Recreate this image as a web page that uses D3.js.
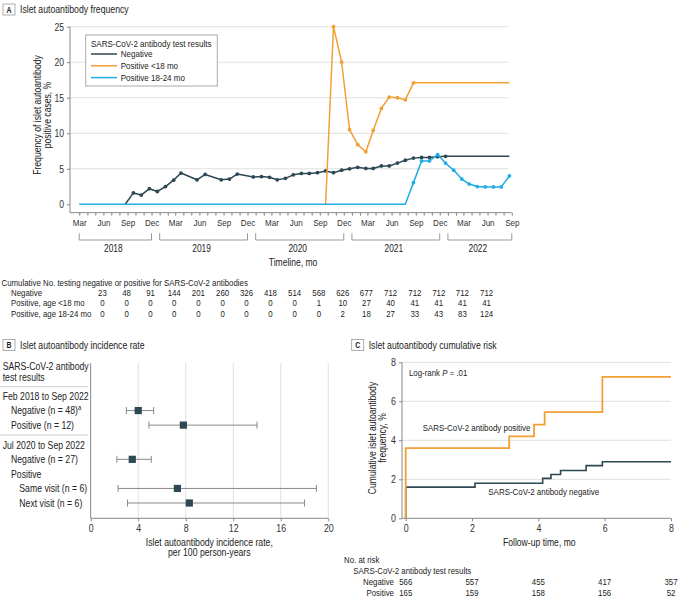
<!DOCTYPE html>
<html>
<head>
<meta charset="utf-8">
<script src="https://cdn.jsdelivr.net/npm/d3@7"></script>
<style>
  body { margin: 0; background: #fff; }
  svg { font-family: "Liberation Sans", Arial, sans-serif; }
  text { fill: #222; }
  .tick text { fill: #333; }
</style>
</head>
<body>
<svg id="chart" width="680" height="597"></svg>
<script>
// ---------- panel A data (monthly frequency, %) ----------
let negMonths = ["2018-08","2018-09","2018-10","2018-11","2018-12","2019-01","2019-02","2019-03","2019-05","2019-06",
                 "2019-08","2019-09","2019-10","2019-12","2020-01","2020-02","2020-03","2020-04","2020-05","2020-06",
                 "2020-07","2020-08","2020-09","2020-10","2020-11","2020-12","2021-01","2021-02","2021-03","2021-04",
                 "2021-05","2021-06","2021-07","2021-08","2021-09","2021-10","2021-11","2021-12","2022-08"];
let negValues = [0, 1.6, 1.3, 2.2, 1.8, 2.5, 3.4, 4.4, 3.45, 4.2,
                 3.45, 3.55, 4.25, 3.85, 3.9, 3.8, 3.45, 3.65, 4.15, 4.35,
                 4.35, 4.45, 4.7, 4.45, 4.8, 5.0, 5.2, 5.05, 5.05, 5.4,
                 5.4, 5.8, 6.2, 6.5, 6.6, 6.6, 6.7, 6.75, 6.75];

let posU18Months = ["2020-09","2020-10","2020-11","2020-12","2021-01","2021-02","2021-03","2021-04","2021-05","2021-06","2021-07","2021-08","2022-08"];
let posU18Values = [0, 25, 20, 10.5, 8.4, 7.4, 10.4, 13.5, 15.1, 15.0, 14.7, 17.1, 17.1];

let pos18Months = ["2018-02","2021-07","2021-08","2021-09","2021-10","2021-11","2021-12","2022-01","2022-02","2022-03","2022-04","2022-05","2022-06","2022-07","2022-08"];
let pos18Values = [0, 0, 3.05, 6.1, 6.1, 7.0, 5.8, 4.8, 3.55, 2.85, 2.5, 2.45, 2.45, 2.45, 4.0];

let seriesNames = ["Negative", "Positive <18 mo", "Positive 18-24 mo"];
let seriesColors = ["#2c4853", "#f2a033", "#1fade3"];

let years = [2018, 2019, 2020, 2021, 2022];

// cumulative numbers, one per quarter from Jun 2018 to Jun 2022
let tableRowNames = ["Negative", "Positive, age <18 mo", "Positive, age 18-24 mo"];
let tableNeg = [23, 48, 91, 144, 201, 260, 326, 418, 514, 568, 626, 677, 712, 712, 712, 712, 712];
let tablePosU18 = [0, 0, 0, 0, 0, 0, 0, 0, 0, 1, 10, 27, 40, 41, 41, 41, 41];
let tablePos18 = [0, 0, 0, 0, 0, 0, 0, 0, 0, 0, 2, 18, 27, 33, 43, 83, 124];

// ---------- panel B data (incidence per 100 person-years) ----------
let bRows = ["Feb 2018 to Sep 2022", "Negative (n = 48)", "Positive (n = 12)", "Jul 2020 to Sep 2022",
             "Negative (n = 27)", "Positive", "Same visit (n = 6)", "Next visit (n = 6)"];
let bLevels = [0, 1, 1, 0, 1, 1, 2, 2];
let bRates = [null, 4.0, 7.8, null, 3.5, null, 7.3, 8.3];
let bLower = [null, 3.0, 4.9, null, 2.2, null, 2.3, 3.1];
let bUpper = [null, 5.3, 14.0, null, 5.1, null, 19.0, 18.0];

// ---------- panel C data (cumulative risk, %) ----------
let cPosTimes = [0, 0, 3.12, 3.87, 4.19, 5.93, 8];
let cPosRisk = [0, 3.6, 4.2, 4.8, 5.45, 7.25, 7.25];
let cNegTimes = [0, 0, 2.09, 4.13, 4.38, 4.67, 5.44, 5.93, 8];
let cNegRisk = [0, 1.6, 1.8, 2.05, 2.25, 2.45, 2.7, 2.9, 2.9];
let riskTimes = [0, 2, 4, 6, 8];
let riskNeg = [566, 557, 455, 417, 357];
let riskPos = [165, 159, 158, 156, 52];

const svg = d3.select("#chart");
const GRID = "#e0e0e0";
const AXIS = "#888";
const SX = 0.82;   // narrow the face, like a condensed font

function txt(parent, x, y, str, size, anchor, rot) {
    return parent.append("text")
        .attr("transform", `translate(${x},${y})${rot ? ` rotate(${rot})` : ""} scale(${SX},1)`)
        .attr("text-anchor", anchor || "start")
        .attr("dominant-baseline", "central")
        .style("font-size", size + "px")
        .text(str);
}

function panelLabel(x, y, letter, title) {
    svg.append("rect").attr("x", x).attr("y", y).attr("width", 12).attr("height", 11)
        .attr("fill", "#fff").attr("stroke", "#999").attr("stroke-width", 0.8);
    txt(svg, x + 6, y + 5.8, letter, 8.5, "middle").style("font-weight", "bold");
    txt(svg, x + 17, y + 5.5, title, 10.6);
}

function styleAxis(g, size) {
    g.select(".domain").remove();
    g.selectAll(".tick line").attr("stroke", AXIS);
    g.selectAll(".tick text")
        .style("font-size", (size || 10) + "px")
        .attr("x", function() { return (+d3.select(this).attr("x") || 0) / SX; })
        .attr("transform", `scale(${SX},1)`);
}

// ================= Panel A =================
panelLabel(3, 4, "A", "Islet autoantibody frequency");

let parseMonth = d3.timeParse("%Y-%m");
// monthly points sit in the later part of each month
let pointDate = m => d3.timeDay.offset(parseMonth(m), 22);

let xA = d3.scaleTime()
    .domain([new Date(2018, 2, 1), new Date(2022, 8, 1)])
    .range([79.2, 511.8])
    .clamp(true);
let yA = d3.scaleLinear().domain([0, 25]).range([204.3, 26.7]);

// gridlines
svg.append("g").selectAll("line").data([5, 10, 15, 20, 25]).enter().append("line")
    .attr("x1", 70).attr("x2", 508)
    .attr("y1", d => yA(d)).attr("y2", d => yA(d))
    .attr("stroke", GRID);

// axes
svg.append("line").attr("x1", 70).attr("x2", 70).attr("y1", yA(25)).attr("y2", 212.7).attr("stroke", AXIS);
svg.append("line").attr("x1", 70).attr("x2", 511.8).attr("y1", 212.7).attr("y2", 212.7).attr("stroke", AXIS);

svg.append("g").attr("transform", "translate(70,0)")
    .call(d3.axisLeft(yA).tickValues([0, 5, 10, 15, 20, 25]).tickSize(3).tickPadding(3))
    .call(styleAxis, 10.5);

let quarterMonths = [2, 5, 8, 11];
svg.append("g").attr("transform", "translate(0,212.7)")
    .call(d3.axisBottom(xA).ticks(d3.timeMonth.every(1)).tickSize(3).tickPadding(3)
        .tickFormat(d => quarterMonths.includes(d.getMonth()) ? d3.timeFormat("%b")(d) : ""))
    .call(styleAxis, 9.8);

// year brackets
let domA = xA.domain();
years.forEach(yr => {
    let x0 = xA(d3.max([new Date(yr, 0, 1), domA[0]]));
    let x1 = xA(d3.min([new Date(yr, 11, 1), domA[1]]));
    svg.append("path")
        .attr("d", `M${x0},233.3V240H${x1}V233.3`)
        .attr("fill", "none").attr("stroke", "#999");
    txt(svg, (x0 + x1) / 2 - 2, 248.3, yr, 10.2, "middle");
});

txt(svg, 293, 262.3, "Timeline, mo", 10.4, "middle");

txt(svg, 37, 115, "Frequency of islet autoantibody", 10.5, "middle", -90);
txt(svg, 47.5, 115, "positive cases, %", 10.5, "middle", -90);

// lines
let seriesA = [
    negMonths.map((m, i) => ({ date: pointDate(m), v: negValues[i] })),
    posU18Months.map((m, i) => ({ date: pointDate(m), v: posU18Values[i] })),
    pos18Months.map((m, i) => ({ date: pointDate(m), v: pos18Values[i] }))
];
let lineA = d3.line().x(d => xA(d.date)).y(d => yA(d.v));

seriesA.forEach((s, k) => {
    svg.append("path").datum(s).attr("d", lineA)
        .attr("fill", "none").attr("stroke", seriesColors[k]).attr("stroke-width", 1.5)
        .attr("stroke-linejoin", "round");
    // markers on the measured points (not on zero runs or flat carry-forward ends)
    let marked = s.filter((d, i) => d.v > 0 && !(k < 2 && i === s.length - 1));
    svg.append("g").selectAll("circle").data(marked).enter().append("circle")
        .attr("cx", d => xA(d.date)).attr("cy", d => yA(d.v))
        .attr("r", 1.9).attr("fill", seriesColors[k]);
});

// legend
let legA = svg.append("g");
legA.append("rect").attr("x", 85.7).attr("y", 35).attr("width", 131.6).attr("height", 51)
    .attr("fill", "#fff").attr("stroke", "#aaa");
txt(legA, 91, 43.7, "SARS-CoV-2 antibody test results", 9.8);
seriesNames.forEach((n, k) => {
    let yy = 54 + k * 11.8;
    legA.append("line").attr("x1", 91).attr("x2", 117).attr("y1", yy).attr("y2", yy)
        .attr("stroke", seriesColors[k]).attr("stroke-width", 1.5);
    txt(legA, 120.7, yy, n, 9.8);
});

// cumulative numbers table
txt(svg, 1.5, 282.3, "Cumulative No. testing negative or positive for SARS-CoV-2 antibodies", 9.6);
let firstCol = new Date(2018, 5, 1);
[tableNeg, tablePosU18, tablePos18].forEach((row, r) => {
    let yy = 292.7 + r * 10.5;
    txt(svg, 11, yy, tableRowNames[r], 9.6);
    let g = svg.append("g");
    row.forEach((v, i) => {
        txt(g, xA(d3.timeMonth.offset(firstCol, 3 * i)) - 1, yy, v, 9.6, "middle");
    });
});

// ================= Panel B =================
panelLabel(3, 339.5, "B", "Islet autoantibody incidence rate");

let xB = d3.scaleLinear().domain([0, 20]).range([90.7, 328.3]);
let rowIndex = bRows.map((d, i) => i + (i >= 3 ? 0.35 : 0));
let yB = d3.scaleLinear().domain([0, 7.35]).range([396, 503]);

svg.append("g").selectAll("line").data([4, 8, 12, 16, 20]).enter().append("line")
    .attr("x1", d => xB(d)).attr("x2", d => xB(d)).attr("y1", 363).attr("y2", 518.3)
    .attr("stroke", GRID);
svg.append("line").attr("x1", xB(0)).attr("x2", xB(0)).attr("y1", 363).attr("y2", 518.3).attr("stroke", AXIS);
svg.append("line").attr("x1", xB(0)).attr("x2", xB(20)).attr("y1", 518.3).attr("y2", 518.3).attr("stroke", AXIS);
svg.append("g").attr("transform", "translate(0,518.3)")
    .call(d3.axisBottom(xB).tickValues([0, 4, 8, 12, 16, 20]).tickSize(3).tickPadding(3))
    .call(styleAxis, 10.8);

txt(svg, 209.3, 542, "Islet autoantibody incidence rate,", 10.6, "middle");
txt(svg, 209.3, 552.5, "per 100 person-years", 10.6, "middle");

txt(svg, 2.7, 366, "SARS-CoV-2 antibody", 10.6);
txt(svg, 2.7, 376.7, "test results", 10.6);
[386.7, 435].forEach(yy => {
    svg.append("line").attr("x1", 0).attr("x2", 88).attr("y1", yy).attr("y2", yy).attr("stroke", "#ccc");
});

bRows.forEach((name, i) => {
    let yy = yB(rowIndex[i]);
    let t = txt(svg, 2.7 + bLevels[i] * 8.3, yy, name, 10.6);
    if (i === 1) {
        t.append("tspan").attr("dy", -4).style("font-size", "7px").text("a");
    }
    if (bRates[i] == null) return;
    svg.append("line").attr("x1", xB(bLower[i])).attr("x2", xB(bUpper[i])).attr("y1", yy).attr("y2", yy)
        .attr("stroke", "#8a8a8a");
    [bLower[i], bUpper[i]].forEach(v => {
        svg.append("line").attr("x1", xB(v)).attr("x2", xB(v)).attr("y1", yy - 3.5).attr("y2", yy + 3.5)
            .attr("stroke", "#8a8a8a");
    });
    svg.append("rect").attr("x", xB(bRates[i]) - 3.6).attr("y", yy - 3.6)
        .attr("width", 7.2).attr("height", 7.2).attr("fill", "#2c4853");
});

// ================= Panel C =================
panelLabel(351.7, 339.5, "C", "Islet autoantibody cumulative risk");

let xC = d3.scaleLinear().domain([0, 8]).range([405.7, 671]);
let yC = d3.scaleLinear().domain([0, 8]).range([518.3, 362.3]);

svg.append("g").selectAll("line").data([2, 4, 6, 8]).enter().append("line")
    .attr("x1", 402).attr("x2", 671).attr("y1", d => yC(d)).attr("y2", d => yC(d))
    .attr("stroke", GRID);
svg.append("line").attr("x1", 402).attr("x2", 402).attr("y1", yC(8)).attr("y2", yC(0)).attr("stroke", AXIS);
svg.append("line").attr("x1", 402).attr("x2", 671).attr("y1", yC(0)).attr("y2", yC(0)).attr("stroke", AXIS);
svg.append("g").attr("transform", "translate(402,0)")
    .call(d3.axisLeft(yC).tickValues([0, 2, 4, 6, 8]).tickSize(3).tickPadding(3))
    .call(styleAxis, 10.8);
svg.append("g").attr("transform", `translate(0,${yC(0)})`)
    .call(d3.axisBottom(xC).tickValues([0, 2, 4, 6, 8]).tickSize(3).tickPadding(3))
    .call(styleAxis, 10.8);

let stepLine = d3.line().curve(d3.curveStepAfter).x(d => xC(d[0])).y(d => yC(d[1]));
svg.append("path").datum(cNegTimes.map((t, i) => [t, cNegRisk[i]])).attr("d", stepLine)
    .attr("fill", "none").attr("stroke", "#2c4853").attr("stroke-width", 1.6);
svg.append("path").datum(cPosTimes.map((t, i) => [t, cPosRisk[i]])).attr("d", stepLine)
    .attr("fill", "none").attr("stroke", "#f2a033").attr("stroke-width", 1.8);

let lr = txt(svg, 409, 372.7, "", 9.6);
lr.append("tspan").text("Log-rank ");
lr.append("tspan").style("font-style", "italic").text("P");
lr.append("tspan").text(" = .01");

txt(svg, 422.7, 427.7, "SARS-CoV-2 antibody positive", 9.7);
txt(svg, 488.3, 491.7, "SARS-CoV-2 antibody negative", 9.7);

txt(svg, 371.7, 438, "Cumulative islet autoantibody", 10.5, "middle", -90);
txt(svg, 382.5, 438, "frequency, %", 10.5, "middle", -90);

txt(svg, 539.3, 541.7, "Follow-up time, mo", 10.5, "middle");

// number at risk
txt(svg, 344, 560, "No. at risk", 9.6);
txt(svg, 353.3, 570.7, "SARS-CoV-2 antibody test results", 9.6);
[["Negative", riskNeg], ["Positive", riskPos]].forEach(([name, vals], r) => {
    let yy = 581.7 + r * 10.6;
    txt(svg, 394, yy, name, 9.6, "end");
    let g = svg.append("g");
    vals.forEach((v, i) => txt(g, xC(riskTimes[i]), yy, v, 9.6, "middle"));
});
</script>
</body>
</html>
